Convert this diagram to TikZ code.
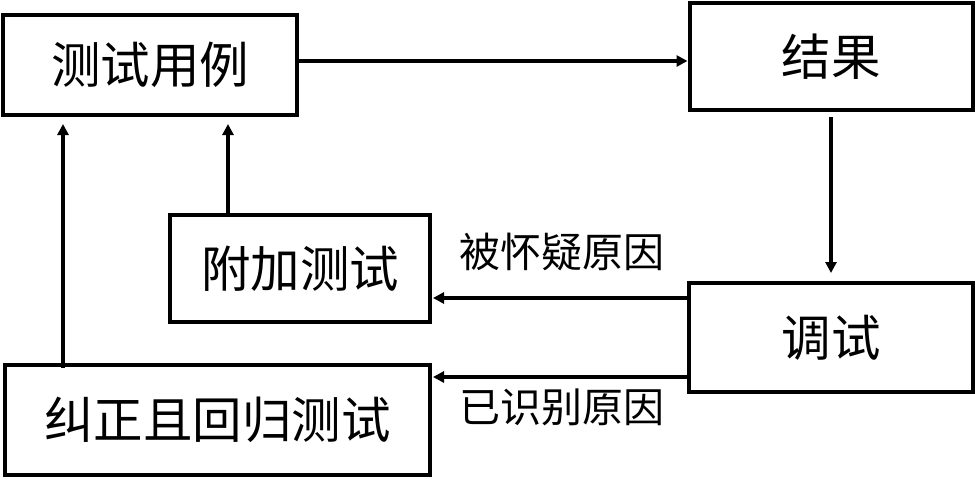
\documentclass[tikz,border=0pt]{standalone}
\usepackage{fontspec}
\newfontfamily\cjk{Noto Sans CJK SC}
\usetikzlibrary{arrows.meta}
\begin{document}
\begin{tikzpicture}[x=1pt,y=-1pt,
  box/.style={draw,line width=4pt,inner sep=0pt,font=\cjk\fontsize{49.5}{49.5}\selectfont},
  lbl/.style={inner sep=0pt,font=\cjk\fontsize{41}{41}\selectfont},
  arr/.style={line width=3.5pt,-{Triangle[length=11pt,width=11pt]}}]
\useasboundingbox (0,0) rectangle (975,480);
% boxes
\node[box,minimum width=294pt,minimum height=100pt] (tc)  at (150,65)    {测试用例};
\node[box,minimum width=283pt,minimum height=107pt] (res) at (831,56.5)  {结果};
\node[box,minimum width=284pt,minimum height=109pt] (dbg) at (831,337.5) {调试};
\node[box,minimum width=260pt,minimum height=107pt] (add) at (300,268.5) {附加测试};
\node[box,minimum width=425pt,minimum height=110pt] (fix) at (217.5,420) {纠正且回归测试};
% helper rows and columns for the connectors
\coordinate (r1) at (0,61);
\coordinate (r2) at (0,298);
\coordinate (r3) at (0,377);
\coordinate (c1) at (228,0);
\coordinate (c2) at (63,0);
% connectors
\draw[arr] (tc.east |- r1) -- (res.west |- r1);
\draw[arr,shorten <=5pt,shorten >=8pt] (res.south) -- (dbg.north);
\draw[arr,shorten >=1pt] (dbg.west |- r2) -- (add.east |- r2);
\draw[arr,shorten >=1pt] (dbg.west |- r3) -- (fix.east |- r3);
\draw[arr,shorten >=7pt] (add.north -| c1) -- (tc.south -| c1);
\draw[arr,shorten <=-5pt,shorten >=7pt] (fix.north -| c2) -- (tc.south -| c2);
% labels
\node[lbl] (l1) at (562,252) {被怀疑原因};
\node[lbl] (l2) at (562,407) {已识别原因};
\end{tikzpicture}
\end{document}
